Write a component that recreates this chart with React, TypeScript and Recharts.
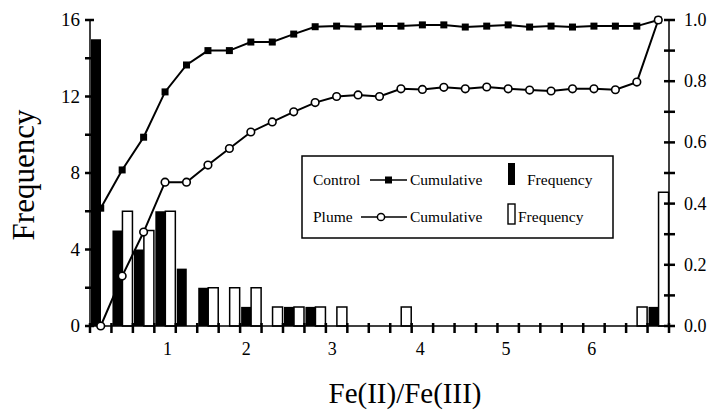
import React from "react";
import { ComposedChart, Bar, Line, XAxis, YAxis } from "recharts";

// Histogram bins (index along the Fe(II)/Fe(III) axis)
const bins = [0, 1, 2, 3, 4, 5, 6, 7, 8, 9, 10, 11, 12, 13, 14, 15, 16, 17, 18, 19, 20, 21, 22, 23, 24, 25, 26];

// Frequency counts per bin
const controlFreq = [15, 5, 4, 6, 3, 2, 0, 1, 0, 1, 1, 0, 0, 0, 0, 0, 0, 0, 0, 0, 0, 0, 0, 0, 0, 0, 1];
const plumeFreq = [0, 6, 5, 6, 0, 2, 2, 2, 1, 1, 1, 1, 0, 0, 1, 0, 0, 0, 0, 0, 0, 0, 0, 0, 0, 1, 7];

// Cumulative fractions per bin
const controlCum = [
  0.385, 0.51, 0.617, 0.765, 0.853, 0.9, 0.9, 0.928, 0.928, 0.954, 0.978, 0.98, 0.978, 0.98,
  0.98, 0.984, 0.984, 0.977, 0.98, 0.984, 0.977, 0.98, 0.977, 0.98, 0.98, 0.98, 1.0,
];
const plumeCum = [
  0.0, 0.163, 0.307, 0.47, 0.47, 0.526, 0.58, 0.634, 0.667, 0.7, 0.73, 0.75, 0.755, 0.75,
  0.775, 0.773, 0.78, 0.775, 0.781, 0.775, 0.771, 0.768, 0.775, 0.775, 0.772, 0.797, 1.0,
];

// Axis labelling
const xTickLabels = ["1", "2", "3", "4", "5", "6"];
const xTickPositions = [3.11, 6.79, 10.8, 14.9, 18.9, 22.9];
const leftTicks = [0, 2, 4, 6, 8, 10, 12, 14, 16];
const rightTicks = [0, 0.1, 0.2, 0.3, 0.4, 0.5, 0.6, 0.7, 0.8, 0.9, 1.0];
const rightTickLabels = ["0.0", "", "0.2", "", "0.4", "", "0.6", "", "0.8", "", "1.0"];

const binEdges = bins.map((b) => b - 0.5).concat([bins[bins.length - 1] + 0.5]);

const data = bins.map((b, i) => ({
  bin: b,
  control: controlFreq[i],
  plume: plumeFreq[i],
  controlCum: controlCum[i],
  plumeCum: plumeCum[i],
}));

const SERIF = "'Liberation Serif', 'Times New Roman', serif";

function XTick(props: any) {
  const { x, y, payload } = props;
  const idx = xTickPositions.indexOf(payload.value);
  if (idx >= 0) {
    return (
      <text x={x} y={y + 29} textAnchor="middle" fontFamily={SERIF} fontSize={18} fill="#000">
        {xTickLabels[idx]}
      </text>
    );
  }
  return <rect x={x - 1.25} y={y - 3} width={2.5} height={10} fill="#000" />;
}

function LeftTick(props: any) {
  const { x, y, payload } = props;
  const v = payload.value;
  return (
    <g>
      <rect x={x - 5} y={y - 1.25} width={9} height={2.5} fill="#000" />
      {v % 4 === 0 && (
        <text x={x - 10} y={y + 6} textAnchor="end" fontFamily={SERIF} fontSize={19} fill="#000">
          {String(v)}
        </text>
      )}
    </g>
  );
}

function RightTick(props: any) {
  const { x, y, index } = props;
  const lbl = rightTickLabels[index];
  return (
    <g>
      <rect x={x - 5} y={y - 1.25} width={11} height={2.5} fill="#000" />
      {lbl !== "" && (
        <text x={x + 15} y={y + 6} textAnchor="start" fontFamily={SERIF} fontSize={18} fill="#000">
          {lbl}
        </text>
      )}
    </g>
  );
}

function SquareDot(p: any) {
  return <rect key={`sq-${p.index}`} x={p.cx - 3.5} y={p.cy - 3.5} width={7} height={7} fill="#000" />;
}

function CircleDot(p: any) {
  return <circle key={`ci-${p.index}`} cx={p.cx} cy={p.cy} r={3.8} fill="#fff" stroke="#000" strokeWidth={1.6} />;
}

// Axis titles and the legend panel, drawn over the chart surface
function Overlay() {
  return (
    <svg width={714} height={415} style={{ position: "absolute", left: 0, top: 0, pointerEvents: "none" }}>
      <text x={405} y={403} textAnchor="middle" fontFamily={SERIF} fontSize={29} fill="#000">
        Fe(II)/Fe(III)
      </text>
      <text x={23} y={175} transform="rotate(-90 23 175)" textAnchor="middle" dominantBaseline="central" fontFamily={SERIF} fontSize={31} fill="#000">
        Frequency
      </text>
      <rect x={302} y={156} width={311} height={82} fill="#fff" stroke="#000" strokeWidth={1.5} />
      <g fontFamily={SERIF} fontSize={15.5} fill="#000">
        <text x={313} y={185}>Control</text>
        <text x={410} y={185}>Cumulative</text>
        <text x={527} y={185}>Frequency</text>
        <text x={313} y={222}>Plume</text>
        <text x={410} y={222}>Cumulative</text>
        <text x={518} y={222}>Frequency</text>
      </g>
      <line x1={370} x2={407} y1={180} y2={180} stroke="#000" strokeWidth={1.6} />
      <rect x={385} y={176.5} width={7} height={7} fill="#000" />
      <rect x={508} y={163} width={7} height={22} fill="#000" />
      <line x1={361} x2={407} y1={217} y2={217} stroke="#000" strokeWidth={1.6} />
      <circle cx={381} cy={217} r={3.6} fill="#fff" stroke="#000" strokeWidth={1.5} />
      <rect x={508} y={204} width={7} height={20} fill="#fff" stroke="#000" strokeWidth={1.4} />
    </svg>
  );
}

export default function App() {
  return (
    <div style={{ position: "absolute", left: 0, top: 0, width: 714, height: 415, background: "#fff" }}>
      <ComposedChart width={714} height={415} data={data} margin={{ top: 20, right: 0, bottom: 0, left: 0 }} barGap={0}>
        <XAxis
          dataKey="bin"
          type="number"
          domain={[-0.5, 26.5]}
          ticks={[...binEdges, ...xTickPositions]}
          interval={0}
          tickSize={0}
          tickMargin={0}
          tickLine={false}
          axisLine={{ stroke: "#000", strokeWidth: 1.5 }}
          tick={XTick}
          height={89}
        />
        <YAxis
          yAxisId="left"
          domain={[0, 16]}
          ticks={leftTicks}
          interval={0}
          width={90}
          tickSize={0}
          tickMargin={0}
          tickLine={false}
          axisLine={{ stroke: "#000", strokeWidth: 1.5 }}
          tick={LeftTick}
        />
        <YAxis
          yAxisId="right"
          orientation="right"
          domain={[0, 1]}
          ticks={rightTicks}
          interval={0}
          width={45}
          tickSize={0}
          tickMargin={0}
          tickLine={false}
          axisLine={{ stroke: "#000", strokeWidth: 1.5 }}
          tick={RightTick}
        />
        <Bar yAxisId="left" dataKey="control" fill="#000" barSize={10} isAnimationActive={false} />
        <Bar yAxisId="left" dataKey="plume" fill="#fff" stroke="#000" strokeWidth={1.5} barSize={10} isAnimationActive={false} />
        <Line yAxisId="right" type="linear" dataKey="controlCum" stroke="#000" strokeWidth={2} dot={SquareDot} isAnimationActive={false} />
        <Line yAxisId="right" type="linear" dataKey="plumeCum" stroke="#000" strokeWidth={2} dot={CircleDot} isAnimationActive={false} />
      </ComposedChart>
      <Overlay />
    </div>
  );
}
